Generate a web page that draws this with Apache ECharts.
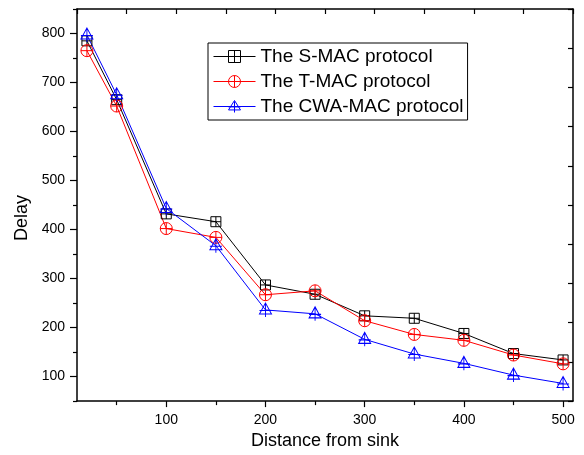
<!DOCTYPE html>
<html>
<head>
<meta charset="utf-8">
<script src="https://cdn.jsdelivr.net/npm/echarts@6/dist/echarts.min.js"></script>
<style>
  html, body { margin: 0; padding: 0; background: #fff; }
  #chart { width: 584px; height: 455px; }
</style>
</head>
<body>
<div id="chart"></div>
<script>
// Distance from sink (x) for every measurement
const distances = [20, 50, 100, 150, 200, 250, 300, 350, 400, 450, 500];

// Delay for each protocol
const smacDelay = [785, 665, 432, 416, 287, 268, 224, 219, 188, 147, 134];
const tmacDelay = [765, 652, 402, 384, 267, 275, 214, 186, 174, 144, 126];
const cwaDelay  = [797, 675, 443, 367, 236, 228, 176, 146, 127, 103, 86];

// Tick labels
const xTickLabels = [100, 200, 300, 400, 500];
const xMinorTicks = [50, 150, 250, 350, 450];
const yTickLabels = [100, 200, 300, 400, 500, 600, 700, 800];
const yMinorTicks = [50, 150, 250, 350, 450, 550, 650, 750, 850];

const seriesNames = ['The S-MAC protocol', 'The T-MAC protocol', 'The CWA-MAC protocol'];

// Hollow markers with a cross inside
const squareCross = 'path://M0,0L10,0L10,10L0,10Z M5,0L5,10 M0,5L10,5';
const circleCross = 'path://M0,6A6,6,0,1,1,12,6A6,6,0,1,1,0,6Z M6,0L6,12 M0,6L12,6';
const triangleCross = 'path://M6,0L12,11L0,11Z M0,7.5L12,7.5 M6,1L6,14';

const FONT = '"Liberation Sans", Arial, sans-serif';
const X_MIN = 10, X_MAX = 510, Y_MIN = 50, Y_MAX = 850;

function pairs(values) {
  return distances.map((d, i) => [d, values[i]]);
}

function makeSeries(name, values, color, symbol, size) {
  return {
    name: name,
    type: 'line',
    xAxisIndex: 0,
    yAxisIndex: 0,
    data: pairs(values),
    symbol: symbol,
    symbolSize: size,
    showAllSymbol: true,
    lineStyle: { color: color, width: 1 },
    itemStyle: { color: 'none', borderColor: color, borderWidth: 1 },
    emphasis: { disabled: true },
    animation: false
  };
}

const chart = echarts.init(document.getElementById('chart'));

const axisLine = { show: true, onZero: false, lineStyle: { color: '#000', width: 1.5 } };

chart.setOption({
  backgroundColor: '#fff',
  textStyle: { fontFamily: FONT },
  grid: { left: 77, right: 11, top: 9, bottom: 47, containLabel: false },
  legend: {
    data: seriesNames,
    orient: 'vertical',
    left: 208,
    top: 43,
    padding: [4, 4, 4, 5],
    itemWidth: 42,
    itemHeight: 15,
    itemGap: 6,
    borderColor: '#000',
    borderWidth: 1,
    itemStyle: { borderWidth: 1 },
    lineStyle: { width: 1 },
    textStyle: { fontFamily: FONT, fontSize: 19, color: '#000', lineHeight: 19 }
  },
  xAxis: [
    {
      // main bottom axis: labels and major ticks
      type: 'value', position: 'bottom', min: X_MIN, max: X_MAX,
      axisLine: axisLine,
      splitLine: { show: false },
      axisTick: { show: true, inside: false, length: 6, customValues: xTickLabels,
                  lineStyle: { color: '#000', width: 1.2 } },
      axisLabel: { show: true, customValues: xTickLabels, margin: 12,
                   fontFamily: FONT, fontSize: 14, color: '#000' },
      name: 'Distance from sink', nameLocation: 'middle', nameGap: 24,
      nameTextStyle: { fontFamily: FONT, fontSize: 18, color: '#000' }
    },
    {
      // top frame
      type: 'value', position: 'top', min: X_MIN, max: X_MAX, interval: 50,
      axisLine: axisLine,
      splitLine: { show: false },
      axisTick: { show: true, inside: true, length: 5, lineStyle: { color: '#000', width: 1.2 } },
      axisLabel: { show: false }
    },
    {
      // minor ticks on the bottom axis
      type: 'value', position: 'bottom', min: X_MIN, max: X_MAX,
      axisLine: { show: false },
      splitLine: { show: false },
      axisTick: { show: true, inside: false, length: 4, customValues: xMinorTicks,
                  lineStyle: { color: '#000', width: 1.2 } },
      axisLabel: { show: false }
    }
  ],
  yAxis: [
    {
      type: 'value', position: 'left', min: Y_MIN, max: Y_MAX,
      axisLine: axisLine,
      splitLine: { show: false },
      axisTick: { show: true, inside: false, length: 7, customValues: yTickLabels,
                  lineStyle: { color: '#000', width: 1.2 } },
      axisLabel: { show: true, customValues: yTickLabels, margin: 12,
                   fontFamily: FONT, fontSize: 14, color: '#000' },
      name: 'Delay', nameLocation: 'middle', nameGap: 46, nameRotate: 90,
      nameTextStyle: { fontFamily: FONT, fontSize: 18, color: '#000', padding: [0, 26, 0, 0] }
    },
    {
      // right frame
      type: 'value', position: 'right', min: Y_MIN, max: Y_MAX, interval: 80,
      axisLine: axisLine,
      splitLine: { show: false },
      axisTick: { show: true, inside: true, length: 5, lineStyle: { color: '#000', width: 1.2 } },
      axisLabel: { show: false }
    },
    {
      // minor ticks on the left axis
      type: 'value', position: 'left', min: Y_MIN, max: Y_MAX,
      axisLine: { show: false },
      splitLine: { show: false },
      axisTick: { show: true, inside: false, length: 4, customValues: yMinorTicks,
                  lineStyle: { color: '#000', width: 1.2 } },
      axisLabel: { show: false }
    }
  ],
  series: [
    makeSeries(seriesNames[0], smacDelay, '#000000', squareCross, 10),
    makeSeries(seriesNames[1], tmacDelay, '#ff0000', circleCross, 12),
    makeSeries(seriesNames[2], cwaDelay, '#0000ff', triangleCross, [12, 14])
  ]
});
</script>
</body>
</html>
